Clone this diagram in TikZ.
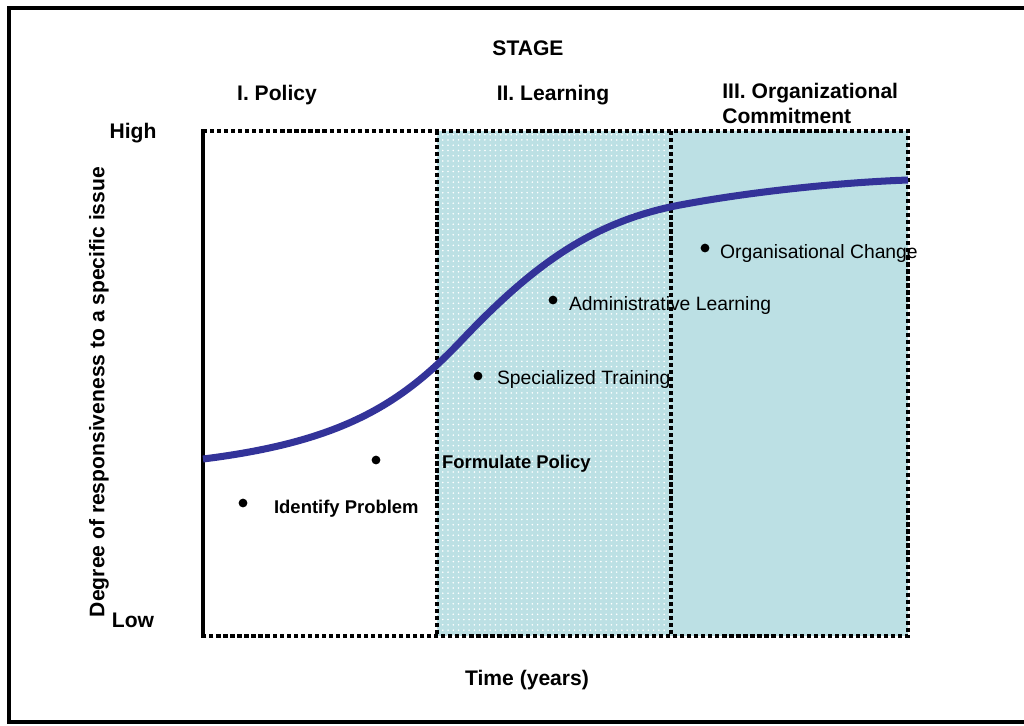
\documentclass[tikz,border=0pt]{standalone}
\usepackage{fontspec}
\setmainfont{Liberation Sans}
\usetikzlibrary{patterns,positioning}

\definecolor{panelcyan}{RGB}{188,224,228}
\definecolor{curveblue}{RGB}{51,51,153}

\begin{document}
\begin{tikzpicture}[x=0.02cm, y=-0.02cm,
  head/.style={font=\fontsize{12}{14}\selectfont\bfseries},
  note/.style={font=\fontsize{11}{13}\selectfont, anchor=west, inner sep=0pt},
  bnote/.style={note, font=\fontsize{10.5}{13}\selectfont\bfseries},
  edgeline/.style={line width=2.4pt, dash pattern=on 2.4pt off 1.6pt},
  dot/.style={circle, fill=black, inner sep=0pt, minimum size=5pt}
]
  \useasboundingbox (0,0) rectangle (1024,725);
  % outer frame, its right side runs off the page
  \begin{scope}
    \clip (0,0) rectangle (1024,725);
    \draw[line width=2.8pt] (9,8) rectangle (1060,722);
  \end{scope}

  % the three stage panels
  \fill[panelcyan, postaction={pattern=dots, pattern color=white}]
    (437,131) rectangle (671,636);
  \fill[panelcyan] (671,131) rectangle (908,636);
  \draw[edgeline] (203,131) -- (908,131) -- (908,636) -- (203,636);
  \draw[edgeline] (437,131) -- (437,636);
  \draw[edgeline] (671,131) -- (671,636);
  \draw[line width=2.2pt] (203,129) -- (203,638);

  % responsiveness curve
  \draw[curveblue, line width=4pt]
    (203,459) .. controls (340,442) and (400,405) .. (460,342)
              .. controls (530,268) and (590,222) .. (680,205)
              .. controls (760,190) and (850,182) .. (908,180);

  % headings
  \node[head] (stage) at (528,48) {STAGE};
  \node[head] (policy) at (277,95) {I. Policy};
  \node[head] (learning) at (553,95) {II. Learning};
  \node[head, anchor=north west, align=left, inner sep=0pt]
    (commit) at (722,83) {III. Organizational\\Commitment};
  \node[head] (high) at (133,133) {High};
  \node[head] (low) at (133,620) {Low};
  \node[head, rotate=90] (ylab) at (99,392)
    {Degree of responsiveness to a specific issue};
  \node[head] (time) at (527,680) {Time (years)};

  % activities along the curve
  \node[dot] (b1) at (243,503) {};
  \node[dot] (b2) at (376,460) {};
  \node[dot] (b3) at (478,376) {};
  \node[dot] (b4) at (553,300) {};
  \node[dot] (b5) at (705,248) {};
  \node[bnote, right=0.52cm of b1, yshift=-3pt] (n1) {Identify Problem};
  \node[bnote, right=1.22cm of b2, yshift=-2pt] (n2) {Formulate Policy};
  \node[note, right=0.28cm of b3, yshift=-2pt] (n3) {Specialized Training};
  \node[note, right=0.22cm of b4, yshift=-3pt] (n4) {Administrative Learning};
  \node[note, right=0.2cm of b5, yshift=-3pt] (n5) {Organisational Change};
\end{tikzpicture}
\end{document}
